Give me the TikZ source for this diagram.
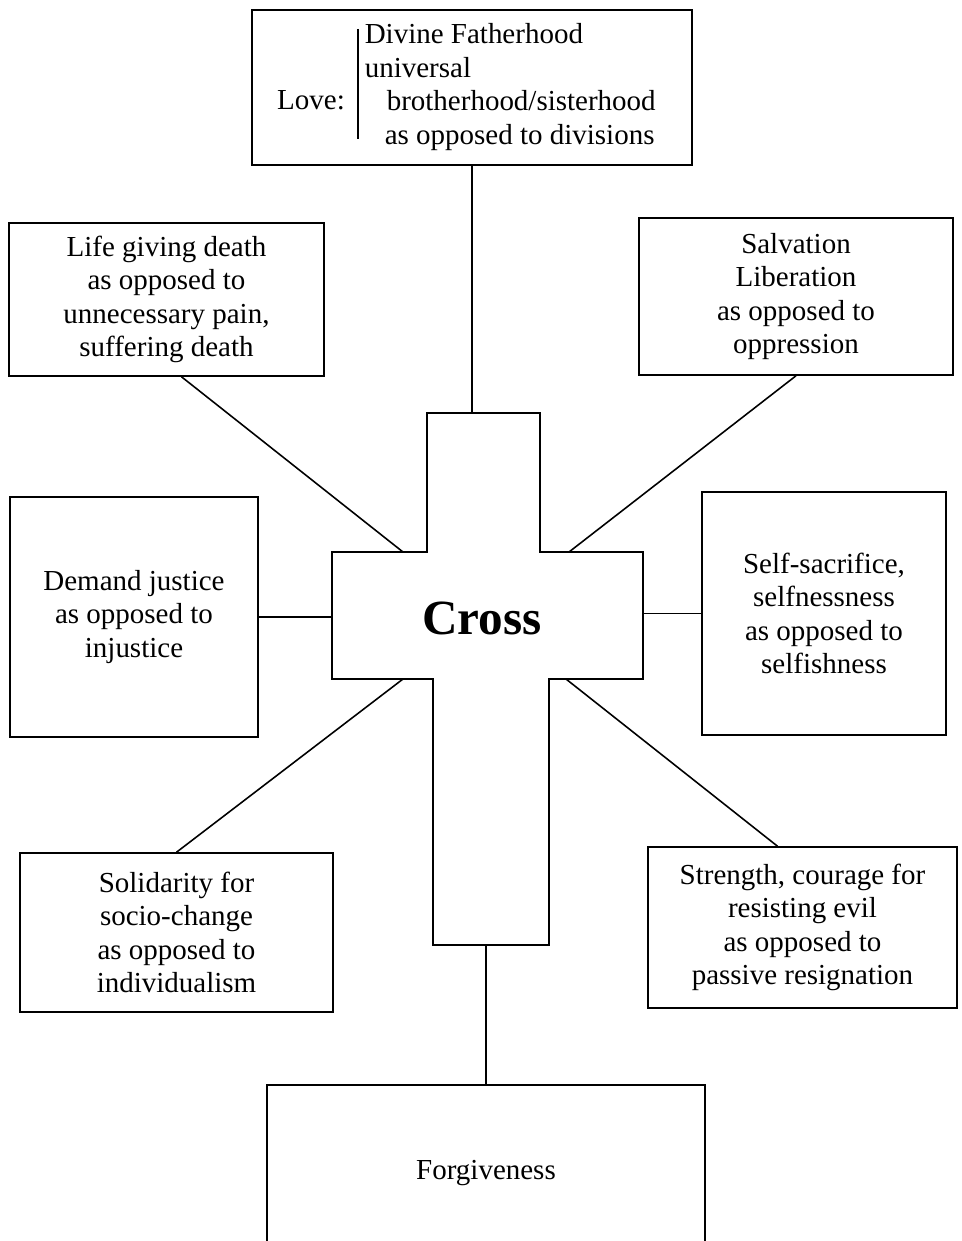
\documentclass[tikz,border=0pt]{standalone}
\usepackage{fontspec}
\setmainfont{Liberation Serif}
\usetikzlibrary{positioning}

\begin{document}
\begin{tikzpicture}[x=0.02cm, y=-0.02cm, line width=0.9pt,
        every node/.style={font=\fontsize{16.5}{19}\selectfont},
        box/.style={draw, rectangle, align=center, inner sep=0pt}]
            \useasboundingbox (0,0) rectangle (961,1241);
            \clip (0,0) rectangle (961,1241);

            \node[box, minimum width=8.8cm, minimum height=3.1cm] (love) at (472,87.5) {};
            \node (lovelabel) at (311,100) {Love:};
            \node[anchor=west, align=left, inner sep=0pt] (lovetext) at (364,87) {Divine Fatherhood\\universal\\\hspace*{0.44cm}brotherhood/sisterhood\\\hspace*{0.4cm}as opposed to divisions};
            \draw ([xshift=-0.12cm, yshift=-0.12cm]lovetext.north west) -- ([xshift=-0.12cm, yshift=0.24cm]lovetext.south west);

            \node[box, minimum width=6.3cm, minimum height=3.06cm] (life) at (166.5,299.5) {Life giving death\\as opposed to\\unnecessary pain,\\suffering death};
            \node[box, minimum width=6.28cm, minimum height=3.14cm] (salvation) at (796,296.5) {Salvation\\Liberation\\as opposed to\\oppression};
            \node[box, minimum width=4.96cm, minimum height=4.8cm] (justice) at (134,617) {Demand justice\\as opposed to\\injustice};
            \node[box, minimum width=4.88cm, minimum height=4.86cm] (sacrifice) at (824,613.5) {Self-sacrifice,\\selfnessness\\as opposed to\\selfishness};
            \node[box, minimum width=6.26cm, minimum height=3.18cm] (solidarity) at (176.5,932.5) {Solidarity for\\socio-change\\as opposed to\\individualism};
            \node[box, minimum width=6.18cm, minimum height=3.22cm] (strength) at (802.5,927.5) {Strength, courage for\\resisting evil\\as opposed to\\passive resignation};
            \node[box, minimum width=8.76cm, minimum height=3.52cm] (forgive) at (486,1173) {Forgiveness};

            \draw (427,413) -- (540,413) -- (540,552) -- (643,552) -- (643,679) -- (549,679) -- (549,945) -- (433,945) -- (433,679) -- (332,679) -- (332,552) -- (427,552) -- cycle;
            \node[font=\fontsize{28}{32}\selectfont\bfseries] (cross) at (482,618) {Cross};

            \coordinate (crosstop) at (472,413);
            \coordinate (crossnw) at (403,552);
            \coordinate (crossne) at (569,552);
            \coordinate (crosssw) at (403,679);
            \coordinate (crossse) at (566,679);
            \coordinate (crossw) at (332,620);
            \coordinate (crosse) at (643,620);
            \coordinate (crossfoot) at (486,945);

            \draw (love.south) -- (crosstop);
            \draw ([xshift=0.3cm]life.south) -- (crossnw);
            \draw (salvation.south) -- (crossne);
            \draw (justice.east) -- (justice.east -| crossw);
            \draw (sacrifice.west) -- (sacrifice.west -| crosse);
            \draw (solidarity.north) -- (crosssw);
            \draw ([xshift=-0.5cm]strength.north) -- (crossse);
            \draw (crossfoot) -- (forgive.north);
        \end{tikzpicture}
\end{document}
